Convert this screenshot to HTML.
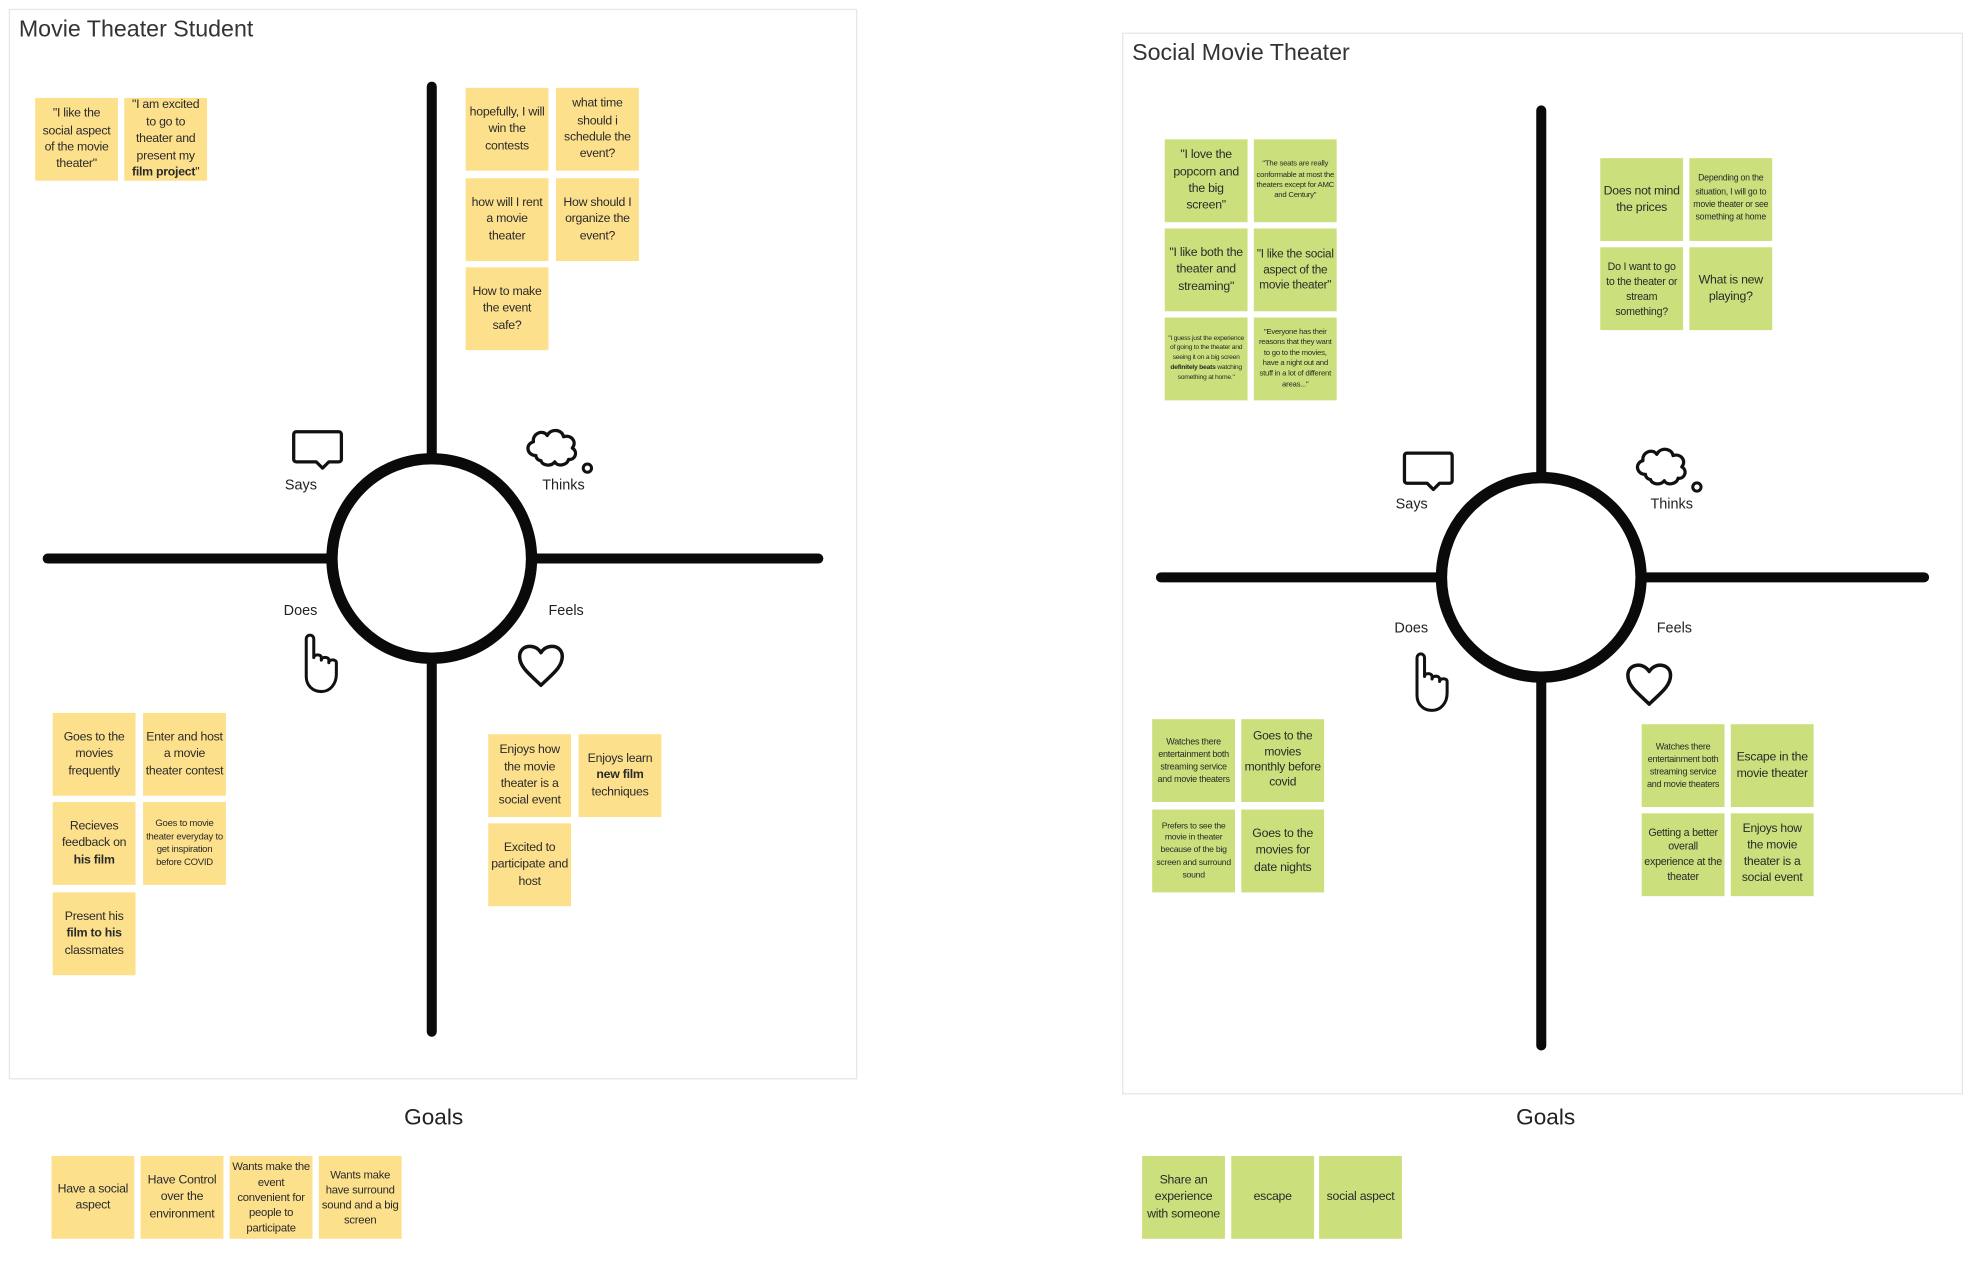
<!DOCTYPE html>
<html><head><meta charset="utf-8"><style>
html,body{margin:0;padding:0;background:#fff;width:1968px;height:1279px;overflow:hidden}
#w{position:absolute;left:0;top:0;width:1568px;height:1019px;transform:scale(1.25510);transform-origin:0 0;font-family:"Liberation Sans",sans-serif;color:#222}
.p{position:absolute;border:1px solid #e6e6e6;box-sizing:border-box}
.t{position:absolute;font-size:18.5px;color:#333;white-space:nowrap}
.n{position:absolute;width:66px;height:66px;display:flex;align-items:center;justify-content:center;text-align:center;font-size:9.8px;line-height:13.4px;box-sizing:border-box;padding:0 2px;color:#2a2a2a;letter-spacing:-0.2px}
.n>span{display:block;width:100%}
.y{background:#fde08c}.g{background:#cbe07c}
.s{font-size:7.6px;line-height:10.4px}
.xs{font-size:5.6px;line-height:8.4px}
.l{position:absolute;font-size:11.5px;color:#222}
.goal{position:absolute;font-size:18px;color:#222}
svg{position:absolute;left:0;top:0}
</style></head><body><div id="w">
<div class="p" style="left:7px;top:7px;width:676px;height:853px"></div>
<div class="p" style="left:894px;top:26px;width:670px;height:846px"></div>
<div class="t" style="left:15px;top:12px">Movie Theater Student</div>
<div class="t" style="left:902px;top:31px">Social Movie Theater</div>

<svg width="1568" height="1019" viewBox="0 0 1568 1019">
<defs>
<g id="say"><path d="M-17,-13 h34 a2,2 0 0 1 2,2 v20 a2,2 0 0 1 -2,2 h-8 l-5,5 l-5,-5 h-16 a2,2 0 0 1 -2,-2 v-20 a2,2 0 0 1 2,-2z" fill="none" stroke="#111" stroke-width="2.6" stroke-linejoin="round"/></g>
<g id="think"><path d="M-16,6 c-7,0 -9,-9 -2,-11 c-1,-7 8,-10 11,-5 c3,-6 12,-5 13,1 c6,-2 11,4 7,9 c5,3 2,10 -3,9 c-1,5 -9,6 -11,2 c-3,4 -10,3 -11,-1 c-2,0 -4,-2 -4,-4z" fill="none" stroke="#111" stroke-width="2.6" stroke-linejoin="round"/><circle cx="25" cy="16" r="3.3" fill="none" stroke="#111" stroke-width="2.4"/></g>
<g id="hand"><path d="M-12,-20 a3,3 0 0 1 6,0 v15 c0,-3 6,-3 6,0 v2 c0,-3 6,-3 6,0 v2 c0,-3 6,-3 6,0 v9 c0,8 -5,14 -12,14 c-7,0 -12,-5 -12,-12z" fill="none" stroke="#111" stroke-width="2.4" stroke-linejoin="round"/></g>
<g id="heart"><path d="M0,15 c-8,-8 -17,-14 -17,-23 c0,-9 12,-11 17,-3 c5,-8 17,-6 17,3 c0,9 -9,15 -17,23z" fill="none" stroke="#111" stroke-width="2.8" stroke-linejoin="round"/></g>
</defs>
<g stroke="#0a0a0a" stroke-width="8" stroke-linecap="round" fill="none">
<line x1="344" y1="69" x2="344" y2="362"/><line x1="344" y1="528" x2="344" y2="822"/>
<line x1="38" y1="445" x2="260" y2="445"/><line x1="428" y1="445" x2="652" y2="445"/>
<circle cx="344" cy="445" r="79.5" stroke-width="9"/>
<line x1="1228" y1="88" x2="1228" y2="377"/><line x1="1228" y1="543" x2="1228" y2="833"/>
<line x1="925" y1="460" x2="1144" y2="460"/><line x1="1312" y1="460" x2="1533" y2="460"/>
<circle cx="1228" cy="460" r="79.5" stroke-width="9"/>
</g>
<use href="#say" x="253" y="357"/><use href="#think" x="443" y="357"/><use href="#hand" x="256" y="529"/><use href="#heart" x="431" y="531"/>
<use href="#say" x="1138" y="374"/><use href="#think" x="1327" y="372"/><use href="#hand" x="1141" y="544"/><use href="#heart" x="1314" y="546"/>
</svg>

<div class="l" style="left:227px;top:381px">Says</div>
<div class="l" style="left:432px;top:381px">Thinks</div>
<div class="l" style="left:226px;top:481px">Does</div>
<div class="l" style="left:437px;top:481px">Feels</div>
<div class="l" style="left:1112px;top:396px">Says</div>
<div class="l" style="left:1315px;top:396px">Thinks</div>
<div class="l" style="left:1111px;top:495px">Does</div>
<div class="l" style="left:1320px;top:495px">Feels</div>

<!-- left yellow -->
<div class="n y" style="left:28px;top:78px"><span>"I like the social aspect of the movie theater"</span></div>
<div class="n y" style="left:99px;top:78px"><span>"I am excited to go to theater and present my <b>film project</b>"</span></div>
<div class="n y" style="left:371px;top:70px"><span>hopefully, I will win the contests</span></div>
<div class="n y" style="left:443px;top:70px"><span>what time should i schedule the event?</span></div>
<div class="n y" style="left:371px;top:142px"><span>how will I rent a movie theater</span></div>
<div class="n y" style="left:443px;top:142px"><span>How should I organize the event?</span></div>
<div class="n y" style="left:371px;top:213px"><span>How to make the event safe?</span></div>
<div class="n y" style="left:42px;top:568px"><span>Goes to the movies frequently</span></div>
<div class="n y" style="left:114px;top:568px"><span>Enter and host a movie theater contest</span></div>
<div class="n y" style="left:42px;top:639px"><span>Recieves feedback on <b>his film</b></span></div>
<div class="n y s" style="left:114px;top:639px"><span>Goes to movie theater everyday to get inspiration before COVID</span></div>
<div class="n y" style="left:42px;top:711px"><span>Present his <b>film to his</b> classmates</span></div>
<div class="n y" style="left:389px;top:585px"><span>Enjoys how the movie theater is a social event</span></div>
<div class="n y" style="left:461px;top:585px"><span>Enjoys learn <b>new film</b> techniques</span></div>
<div class="n y" style="left:389px;top:656px"><span>Excited to participate and host</span></div>
<div class="goal" style="left:322px;top:880px">Goals</div>
<div class="n y" style="left:41px;top:921px"><span>Have a social aspect</span></div>
<div class="n y" style="left:112px;top:921px"><span>Have Control over the environment</span></div>
<div class="n y" style="left:183px;top:921px;font-size:9px;line-height:12.2px"><span>Wants make the event convenient for people to participate</span></div>
<div class="n y" style="left:254px;top:921px;font-size:9px;line-height:12.2px"><span>Wants make have surround sound and a big screen</span></div>

<!-- right green -->
<div class="n g" style="left:928px;top:111px"><span>"I love the popcorn and the big screen"</span></div>
<div class="n g xs" style="left:999px;top:111px;font-size:6.2px"><span>"The seats are really conformable at most the theaters except for AMC and Century"</span></div>
<div class="n g" style="left:928px;top:182px"><span>"I like both the theater and streaming"</span></div>
<div class="n g" style="left:999px;top:182px;font-size:9.4px;line-height:12.4px"><span>"I like the social aspect of the movie theater"</span></div>
<div class="n g xs" style="left:928px;top:253px;font-size:5.4px;line-height:7.8px"><span>"I guess just the experience of going to the theater and seeing it on a big screen <b>definitely beats</b> watching something at home."</span></div>
<div class="n g xs" style="left:999px;top:253px;font-size:6.2px"><span>"Everyone has their reasons that they want to go to the movies, have a night out and stuff in a lot of different areas..."</span></div>
<div class="n g" style="left:1275px;top:126px"><span>Does not mind the prices</span></div>
<div class="n g s" style="left:1346px;top:126px;font-size:7px"><span>Depending on the situation, I will go to movie theater or see something at home</span></div>
<div class="n g s" style="left:1275px;top:197px;font-size:8.5px;line-height:12px"><span>Do I want to go to the theater or stream something?</span></div>
<div class="n g" style="left:1346px;top:197px"><span>What is new playing?</span></div>
<div class="n g s" style="left:918px;top:573px;font-size:7.2px;line-height:10.2px"><span>Watches there entertainment both streaming service and movie theaters</span></div>
<div class="n g" style="left:989px;top:573px;font-size:9.6px;line-height:12.4px"><span>Goes to the movies monthly before covid</span></div>
<div class="n g s" style="left:918px;top:645px;font-size:6.9px;line-height:9.8px"><span>Prefers to see the movie in theater because of the big screen and surround sound</span></div>
<div class="n g" style="left:989px;top:645px"><span>Goes to the movies for date nights</span></div>
<div class="n g s" style="left:1308px;top:577px;font-size:7.2px;line-height:10.2px"><span>Watches there entertainment both streaming service and movie theaters</span></div>
<div class="n g" style="left:1379px;top:577px"><span>Escape in the movie theater</span></div>
<div class="n g s" style="left:1308px;top:648px;font-size:8.5px;line-height:11.6px"><span>Getting a better overall experience at the theater</span></div>
<div class="n g" style="left:1379px;top:648px;font-size:9.6px;line-height:12.8px"><span>Enjoys how the movie theater is a social event</span></div>
<div class="goal" style="left:1208px;top:880px">Goals</div>
<div class="n g" style="left:910px;top:921px"><span>Share an experience with someone</span></div>
<div class="n g" style="left:981px;top:921px"><span>escape</span></div>
<div class="n g" style="left:1051px;top:921px"><span>social aspect</span></div>
</div></body></html>
